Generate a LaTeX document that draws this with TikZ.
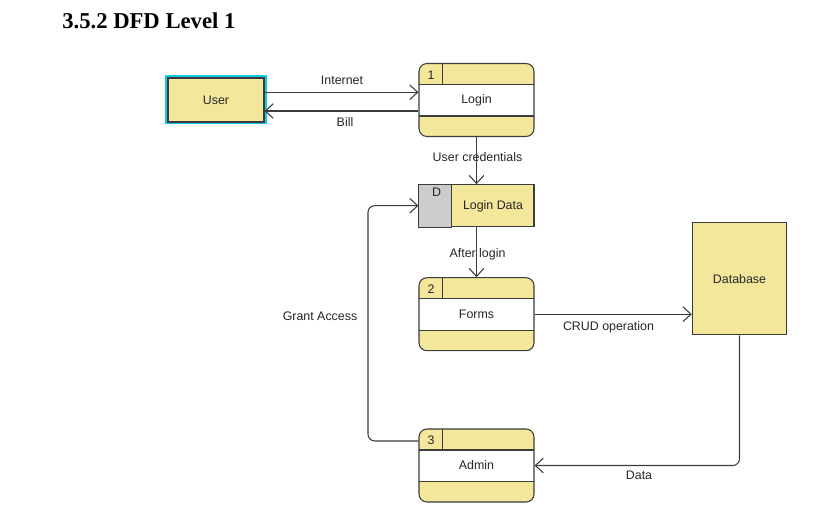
\documentclass[tikz,border=0pt]{standalone}
\usepackage{fontspec}
\setmainfont{Liberation Serif}
\setsansfont{Liberation Sans}
\usetikzlibrary{arrows.meta,calc}
\definecolor{ProcClr}{RGB}{243,231,155}
\definecolor{StoreGry}{RGB}{204,204,204}
\definecolor{EdgeClr}{RGB}{60,60,60}
\definecolor{SelClr}{RGB}{20,200,230}

\tikzset{
  flow/.style={draw=EdgeClr,line width=0.8pt,-{Straight Barb[length=6pt,width=11pt]}},
  lbl/.style={font=\sffamily\fontsize{9.3}{10}\selectfont,text=black!85},
  proc/.style={draw=EdgeClr,line width=0.8pt,rounded corners=6pt,
    minimum width=86.25pt,minimum height=54.75pt,inner sep=0pt},
  ent/.style={draw=EdgeClr,line width=0.8pt,fill=ProcClr,inner sep=0pt},
}

% name, x, y, number, label
\newcommand{\procbox}[5]{%
  \fill[ProcClr,rounded corners=6pt] (#2-57.5,#3-36.5) rectangle (#2+57.5,#3+36.5);
  \fill[white] (#2-57.5,#3-15.5) rectangle (#2+57.5,#3+16);
  \node[proc,lbl] (#1) at (#2,#3) {#5};
  \draw[EdgeClr,line width=0.8pt] (#2-57.5,#3-15.5) -- (#2+57.5,#3-15.5)
    (#2-57.5,#3+16) -- (#2+57.5,#3+16)
    (#2-34,#3-36.5) -- (#2-34,#3-15.5);
  \node[lbl] (#1-num) at (#2-45.5,#3-25) {#4};
}

\begin{document}
\begin{tikzpicture}[x=0.75pt,y=-0.75pt]
\useasboundingbox (0,0) rectangle (827,514);

\node[anchor=base west,inner sep=0pt,font=\bfseries\fontsize{17}{20}\selectfont] (title) at (62,28) {3.5.2 DFD Level 1};

% external entity
\draw[SelClr,line width=1.5pt] (166,76) rectangle (266,123);
\node[ent,lbl,minimum width=72pt,minimum height=33pt] (user) at (216,100) {User};

% processes
\procbox{login}{476.5}{100}{1}{Login}
\procbox{forms}{476.5}{314.2}{2}{Forms}
\procbox{admin}{476.5}{465.5}{3}{Admin}

% data store
\node[ent,minimum width=86.25pt,minimum height=31.5pt] (ldata) at (476.5,205.7) {};
\filldraw[fill=StoreGry,draw=EdgeClr,line width=0.8pt] (ldata.north west) rectangle ([xshift=24.75pt]ldata.south west);
\node[lbl] (ldata-d) at (436.5,192.5) {D};
\node[lbl] (ldata-l) at (493,206) {Login Data};

\node[ent,lbl,minimum width=70.8pt,minimum height=84.2pt] (db) at (739.5,278.8) {Database};

% flows
\draw[flow] ([yshift=5.8pt]user.east) -- ([yshift=5.8pt]user.east -| login.west);
\draw[flow] ([yshift=-8.25pt]user.east -| login.west) -- ([yshift=-8.25pt]user.east);
\draw[flow] (login.south) -- (ldata.north);
\draw[flow] (ldata.south) -- (forms.north);
\draw[flow] (forms.east) -- (forms.east -| db.west);
\draw[flow,rounded corners=5pt] (db.south) |- (admin.east);
\coordinate (gbend) at (368,205.7);
\draw[flow,rounded corners=5pt] ([yshift=18.4pt]admin.west) -| (gbend) -- (ldata.west);

\node[lbl] (l-internet) at (342,80.5) {Internet};
\node[lbl] (l-bill) at (345,122.5) {Bill};
\node[lbl] (l-cred) at (477.5,157) {User credentials};
\node[lbl] (l-after) at (477.5,254) {After login};
\node[lbl] (l-crud) at (608.5,327.3) {CRUD operation};
\node[lbl] (l-data) at (639,475.7) {Data};
\node[lbl] (l-grant) at (320,316) {Grant Access};

\end{tikzpicture}
\end{document}
